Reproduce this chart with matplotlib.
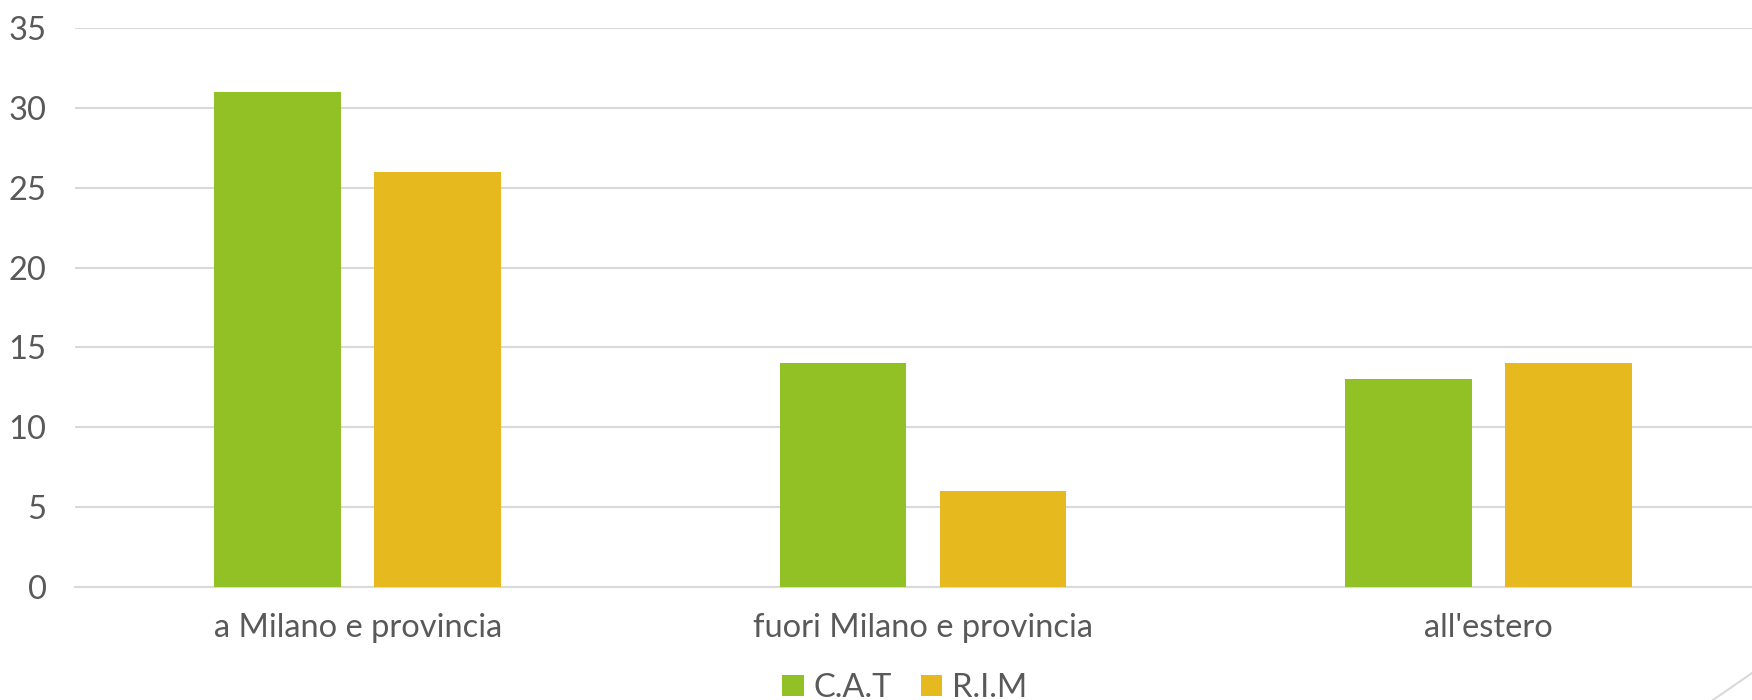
import numpy as np
import matplotlib.pyplot as plt
from matplotlib.lines import Line2D

categorie = ['a Milano e provincia', 'fuori Milano e provincia', "all'estero"]
cat_vals = [31, 14, 13]
rim_vals = [26, 6, 14]
serie = ['C.A.T', 'R.I.M']
colori = ['#92C125', '#E6B91E']
y_ticks = [0, 5, 10, 15, 20, 25, 30, 35]

plt.rcParams['font.family'] = ['Lato', 'DejaVu Sans']
testo = '#595959'
griglia = '#D9D9D9'

fig = plt.figure(figsize=(17.52, 7.0), dpi=100)
ax = fig.add_axes([75/1752, 113/700, 1696/1752, 559/700])

x = np.arange(len(categorie))
w = 0.224
off = 0.1413
ax.bar(x - off, cat_vals, w, color=colori[0], label=serie[0], zorder=3)
ax.bar(x + off, rim_vals, w, color=colori[1], label=serie[1], zorder=3)

ax.set_xlim(-0.5, 2.5)
ax.set_ylim(0, 35)
ax.set_yticks(y_ticks)
ax.set_xticks(x)
ax.set_xticklabels(categorie)
ax.yaxis.grid(True, color=griglia, linewidth=1.5, zorder=0)
for s in ['top', 'right', 'left']:
    ax.spines[s].set_visible(False)
ax.spines['bottom'].set_color(griglia)
ax.spines['bottom'].set_linewidth(1.5)
ax.tick_params(axis='both', length=0, labelsize=23.5, colors=testo)
ax.tick_params(axis='y', pad=20.5)
ax.tick_params(axis='x', pad=19)

fig.legend(loc='center', bbox_to_anchor=(905/1752, 12/700), ncol=2, frameon=False,
           fontsize=23.5, labelcolor=testo, handlelength=0.65, handleheight=0.65,
           handletextpad=0.3, columnspacing=0.9)

# linea decorativa in basso a destra
fig.add_artist(Line2D([1713/1752, 1.0], [0, 27/700], color=griglia, linewidth=1.5,
                      transform=fig.transFigure))

fig.savefig('out.png', dpi=100)
